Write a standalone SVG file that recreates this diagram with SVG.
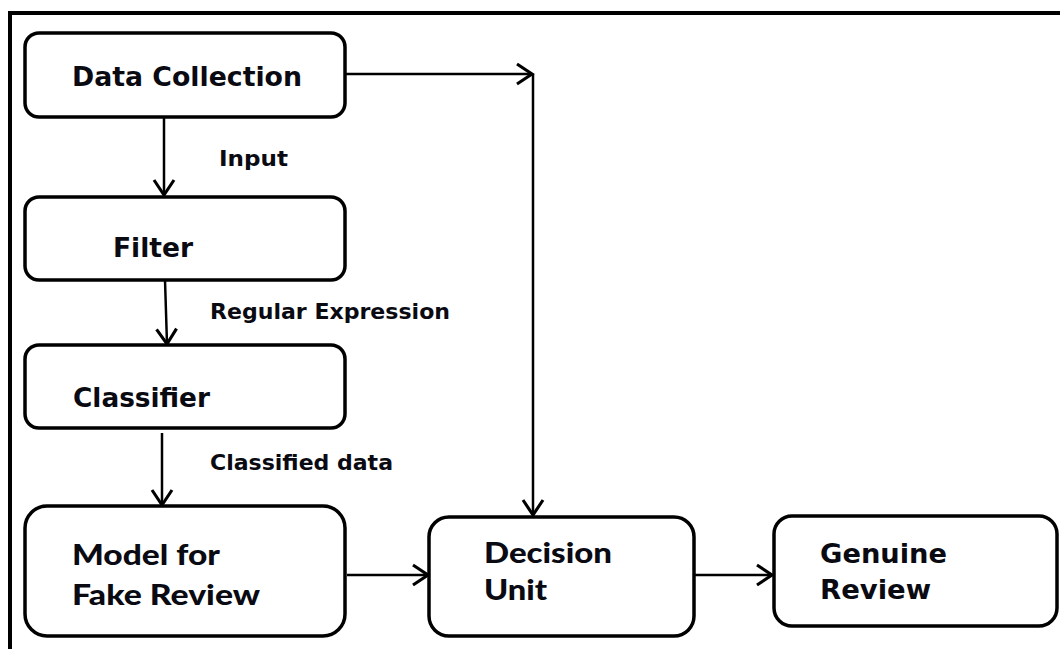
<svg xmlns="http://www.w3.org/2000/svg" width="1060" height="649" viewBox="0 0 1060 649">
  <style>
    .box { fill: #ffffff; stroke: #000000; stroke-width: 3.5; }
    .frame { fill: none; stroke: #000000; stroke-width: 4; }
    .conn { fill: none; stroke: #000000; stroke-width: 2.5; marker-end: url(#arrow); }
    .t1 { font-family: "DejaVu Sans", Verdana, sans-serif; font-weight: bold; font-size: 26px; fill: #0a0a12; }
    .t2 { font-family: Lato, "Open Sans", sans-serif; font-weight: 900; font-size: 28px; fill: #0a0a12; }
    .lbl { font-family: "DejaVu Sans", Verdana, sans-serif; font-weight: bold; font-size: 20.5px; fill: #0a0a12; }
  </style>
  <defs>
    <marker id="arrow" markerUnits="userSpaceOnUse" markerWidth="30" markerHeight="30" refX="0" refY="0" viewBox="-16 -12 20 24" orient="auto">
      <path d="M-12,-8 L0,0 L-12,8" fill="none" stroke="#000000" stroke-width="2.5" stroke-linejoin="miter"/>
    </marker>
  </defs>

  <rect width="1060" height="649" fill="#ffffff"/>
  <!-- outer frame: left and top edges only -->
  <path class="frame" d="M10,649 V13 H1060"/>

  <g id="connectors">
    <line class="conn" x1="164" y1="117" x2="164" y2="195"/>
    <line class="conn" x1="165" y1="280" x2="167" y2="344"/>
    <line class="conn" x1="162" y1="433" x2="162" y2="505"/>
    <line class="conn" x1="345" y1="74" x2="532" y2="74"/>
    <line class="conn" x1="533" y1="74" x2="533" y2="515"/>
    <line class="conn" x1="347" y1="575" x2="428" y2="575"/>
    <line class="conn" x1="694" y1="575" x2="772" y2="575"/>
    <text class="lbl" x="219" y="166" textLength="69" lengthAdjust="spacingAndGlyphs">Input</text>
    <text class="lbl" x="210" y="319" textLength="240" lengthAdjust="spacingAndGlyphs">Regular Expression</text>
    <text class="lbl" x="210" y="470" textLength="183" lengthAdjust="spacingAndGlyphs">Classified data</text>
  </g>

  <g id="data-collection">
    <rect class="box" x="25" y="33" width="320" height="84" rx="14"/>
    <text class="t1" x="72" y="86" textLength="230" lengthAdjust="spacingAndGlyphs">Data Collection</text>
  </g>

  <g id="filter">
    <rect class="box" x="25" y="197" width="320" height="83" rx="14"/>
    <text class="t1" x="113" y="257" textLength="80" lengthAdjust="spacingAndGlyphs">Filter</text>
  </g>

  <g id="classifier">
    <rect class="box" x="25" y="345" width="320" height="83" rx="14"/>
    <text class="t1" x="73" y="407" textLength="137" lengthAdjust="spacingAndGlyphs">Classifier</text>
  </g>

  <g id="model">
    <rect class="box" x="25" y="506" width="320" height="130" rx="22"/>
    <text class="t2" x="72" y="565" textLength="148" lengthAdjust="spacingAndGlyphs">Model for</text>
    <text class="t2" x="72" y="605" textLength="188" lengthAdjust="spacingAndGlyphs">Fake Review</text>
  </g>

  <g id="decision-unit">
    <rect class="box" x="429" y="517" width="265" height="119" rx="20"/>
    <text class="t2" x="484" y="563" textLength="128" lengthAdjust="spacingAndGlyphs">Decision</text>
    <text class="t2" x="484" y="600" textLength="63" lengthAdjust="spacingAndGlyphs">Unit</text>
  </g>

  <g id="genuine-review">
    <rect class="box" x="774" y="516" width="283" height="110" rx="18"/>
    <text class="t1" x="820" y="563" textLength="127" lengthAdjust="spacingAndGlyphs">Genuine</text>
    <text class="t1" x="820" y="599" textLength="111" lengthAdjust="spacingAndGlyphs">Review</text>
  </g>
</svg>
